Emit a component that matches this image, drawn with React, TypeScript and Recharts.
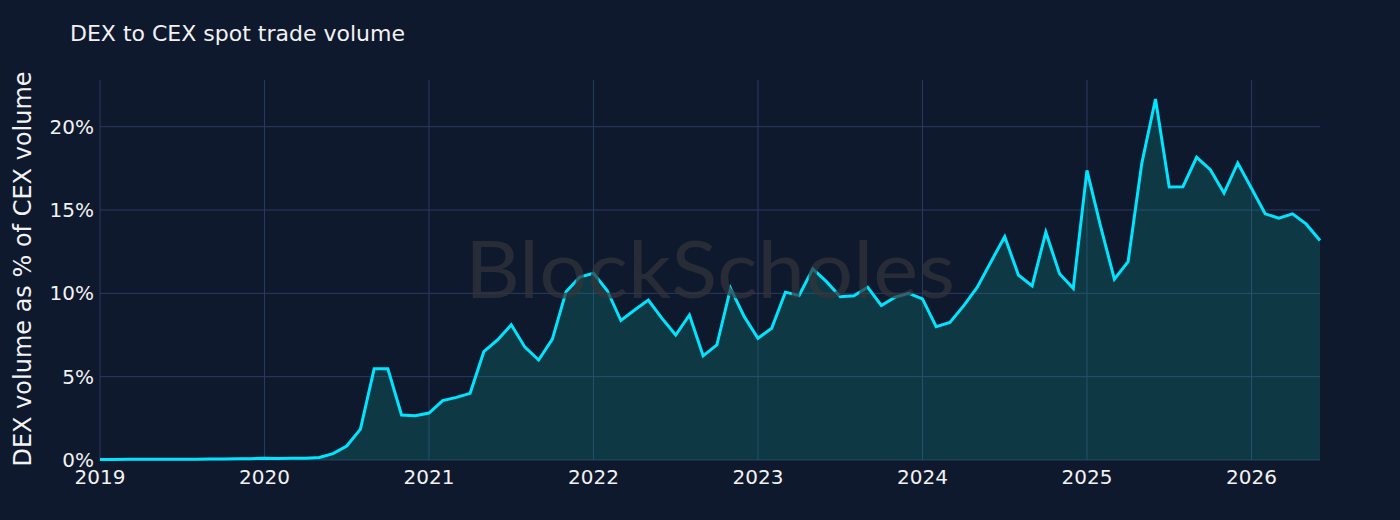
import { AreaChart, Area, XAxis, YAxis, CartesianGrid } from "recharts";

// monthly DEX/CEX spot volume ratio (%), Jan 2019 .. Jun 2026
const startYear = 2019;

const ratio2019 = [0.03, 0.03, 0.04, 0.04, 0.05, 0.05, 0.05, 0.05, 0.06, 0.06, 0.07, 0.08];
const ratio2020 = [0.1, 0.09, 0.1, 0.11, 0.15, 0.38, 0.84, 1.85, 5.47, 5.47, 2.7, 2.66];
const ratio2021 = [2.82, 3.56, 3.76, 4.0, 6.5, 7.2, 8.11, 6.77, 6.0, 7.25, 10.1, 10.97];
const ratio2022 = [11.2, 10.17, 8.37, 9.0, 9.6, 8.5, 7.5, 8.7, 6.25, 6.9, 10.3, 8.6];
const ratio2023 = [7.3, 7.9, 10.07, 9.87, 11.47, 10.7, 9.8, 9.85, 10.37, 9.27, 9.77, 10.0];
const ratio2024 = [9.67, 8.0, 8.25, 9.25, 10.37, 11.9, 13.4, 11.1, 10.45, 13.67, 11.17, 10.3];
const ratio2025 = [17.38, 14.0, 10.85, 11.9, 17.8, 21.66, 16.38, 16.4, 18.16, 17.42, 16.02, 17.82];
const ratio2026 = [16.3, 14.77, 14.51, 14.77, 14.15, 13.17];

const yearTicks = [2019, 2020, 2021, 2022, 2023, 2024, 2025, 2026];
const pctTicks = [0, 5, 10, 15, 20];

const ratios = [
  ...ratio2019,
  ...ratio2020,
  ...ratio2021,
  ...ratio2022,
  ...ratio2023,
  ...ratio2024,
  ...ratio2025,
  ...ratio2026,
];

const data = ratios.map((v, i) => ({ t: startYear + i / 12, ratio: v }));

const xDomain: [number, number] = [2019, 2026 + 5 / 12];
const yDomain: [number, number] = [0, 22.8];

const colors = {
  bg: "#0f192e",
  grid: "#2a3b62",
  line: "#00e5ff",
  fill: "#0ab49c",
  text: "#f2f2f2",
};

const font = "'DejaVu Sans', Verdana, sans-serif";

// grid only on the tick values (no frame round the plot), mapped with the axis domains
const hLines = ({ offset }: any) =>
  pctTicks.map(
    (t) => offset.top + offset.height * (1 - (t - yDomain[0]) / (yDomain[1] - yDomain[0]))
  );
const vLines = ({ offset }: any) =>
  yearTicks.map(
    (t) => offset.left + (offset.width * (t - xDomain[0])) / (xDomain[1] - xDomain[0])
  );

export default function App() {
  return (
    <div
      style={{
        position: "relative",
        width: 1400,
        height: 520,
        background: colors.bg,
        fontFamily: font,
        overflow: "hidden",
      }}
    >
      <style>{`body{margin:0;background:${colors.bg}}`}</style>
      <AreaChart
        width={1400}
        height={520}
        data={data}
        margin={{ top: 80, right: 80, bottom: 30, left: 40 }}
      >
        <CartesianGrid
          stroke={colors.grid}
          strokeWidth={1}
          horizontalCoordinatesGenerator={hLines}
          verticalCoordinatesGenerator={vLines}
        />
        <XAxis
          dataKey="t"
          type="number"
          domain={xDomain}
          ticks={yearTicks}
          tickFormatter={(v) => String(Math.round(v))}
          axisLine={false}
          tickLine={false}
          tickSize={0}
          tickMargin={10}
          height={30}
          tick={{ fill: colors.text, fontSize: 20, fontFamily: font }}
          interval={0}
        />
        <YAxis
          type="number"
          domain={yDomain}
          ticks={pctTicks}
          tickFormatter={(v) => `${v}%`}
          axisLine={false}
          tickLine={false}
          tickSize={0}
          tickMargin={6}
          width={60}
          tick={{ fill: colors.text, fontSize: 20, fontFamily: font }}
          interval={0}
        />
        <Area
          type="linear"
          dataKey="ratio"
          stroke={colors.line}
          strokeWidth={3}
          fill={colors.fill}
          fillOpacity={0.2}
          dot={false}
          activeDot={false}
          isAnimationActive={false}
        />
      </AreaChart>
      <svg
        width={1400}
        height={520}
        style={{ position: "absolute", left: 0, top: 0, pointerEvents: "none" }}
      >
        <text x={70} y={41} fill={colors.text} fontSize={22} fontFamily={font}>
          DEX to CEX spot trade volume
        </text>
        <text
          x={0}
          y={0}
          transform="translate(31, 269) rotate(-90)"
          textAnchor="middle"
          fill={colors.text}
          fontSize={24}
          fontFamily={font}
        >
          DEX volume as % of CEX volume
        </text>
        <text
          x={465}
          y={298}
          textLength={490}
          lengthAdjust="spacingAndGlyphs"
          fill="#33343b"
          fillOpacity={0.7}
          fontSize={80}
          fontFamily="Lato, 'Open Sans', sans-serif"
        >
          BlockScholes
        </text>
      </svg>
    </div>
  );
}
